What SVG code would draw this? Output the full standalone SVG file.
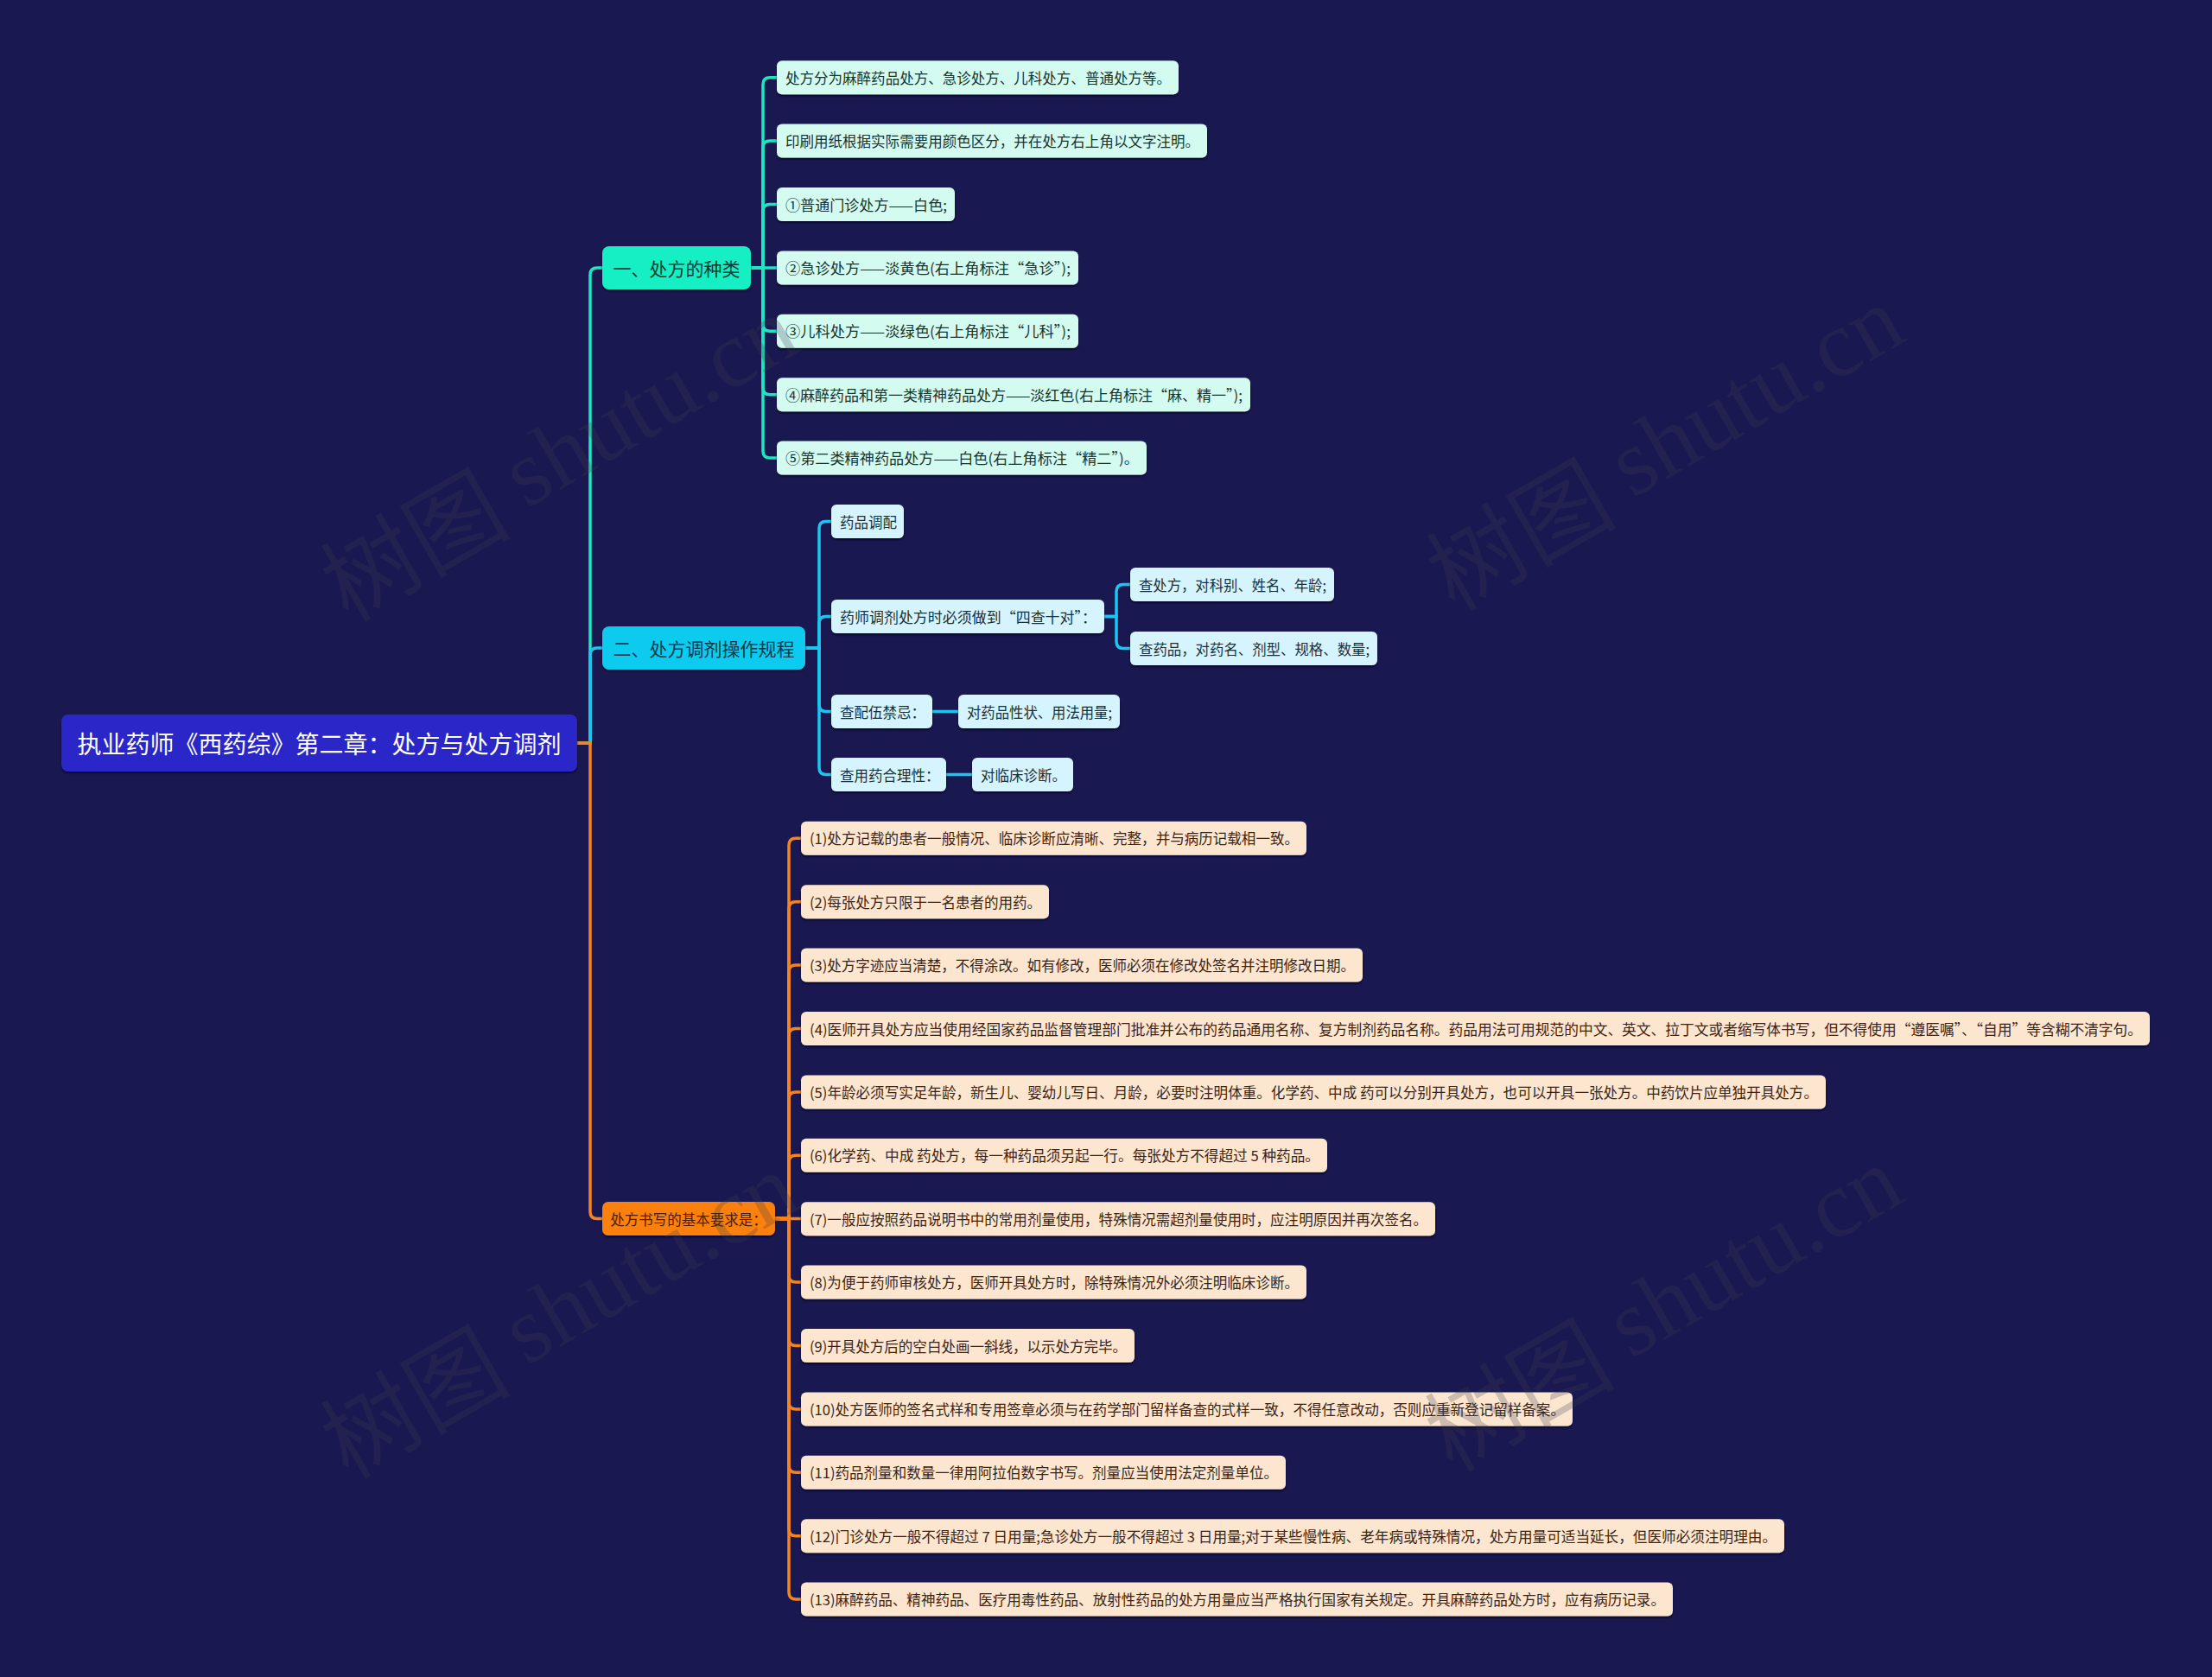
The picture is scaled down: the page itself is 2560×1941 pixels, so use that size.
<svg xmlns="http://www.w3.org/2000/svg" width="2560" height="1941" viewBox="0 0 2560 1941">
<defs>
<filter id="sh" x="-5%" y="-20%" width="110%" height="150%">
<feDropShadow dx="0" dy="2" stdDeviation="1.2" flood-color="#05041a" flood-opacity="0.7"/>
</filter>
<style>
text{font-family:"Noto Sans CJK SC","Noto Sans",sans-serif;dominant-baseline:central;}
.leaf text{font-size:16.5px;}
.c1{fill:none;stroke:#1ee6c0;stroke-width:3.5;}
.c2{fill:none;stroke:#1cc6f0;stroke-width:3.5;}
.c3{fill:none;stroke:#f5831f;stroke-width:3.5;}
.root rect{fill:#2b27c7;filter:url(#sh);}
.root text{fill:#ffffff;font-size:28px;text-anchor:middle;}
.b1 rect{fill:#14efc3;filter:url(#sh);}
.b1 text{fill:#0b3a31;font-size:21px;text-anchor:middle;}
.b2 rect{fill:#0fcbef;filter:url(#sh);}
.b2 text{fill:#083a4a;font-size:21px;text-anchor:middle;}
.b3 rect{fill:#fb800f;filter:url(#sh);}
.b3 text{fill:#4a1e00;font-size:16.5px;text-anchor:middle;}
.l1 rect{fill:#d3fbf0;filter:url(#sh);}
.l1 text{fill:#17332f;}
.l2 rect{fill:#d5f4fd;filter:url(#sh);}
.l2 text{fill:#17303a;}
.l3 rect{fill:#fde6cf;filter:url(#sh);}
.l3 text{fill:#3b2414;}
.wm text{font-size:110px;fill:#3a3a50;fill-opacity:0.25;text-anchor:middle;}
</style>
</defs>
<rect x="0" y="0" width="2560" height="1941" fill="#1a1850"/>

<g id="connectors">
<path class="c1" d="M668 860 H683 V318 Q683 310 691 310 H697"/>
<path class="c2" d="M668 860 H683 V758 Q683 750 691 750 H697"/>
<path class="c3" d="M668 860 H683 V1402.5 Q683 1410.5 691 1410.5 H697"/>

<path class="c1" d="M869 310 H883 V97.7 Q883 89.7 891 89.7 H899"/>
<path class="c1" d="M869 310 H883 V171.1 Q883 163.1 891 163.1 H899"/>
<path class="c1" d="M869 310 H883 V244.5 Q883 236.5 891 236.5 H899"/>
<path class="c1" d="M869 310 H899"/>
<path class="c1" d="M869 310 H883 V375.3 Q883 383.3 891 383.3 H899"/>
<path class="c1" d="M869 310 H883 V448.7 Q883 456.7 891 456.7 H899"/>
<path class="c1" d="M869 310 H883 V522.1 Q883 530.1 891 530.1 H899"/>

<path class="c2" d="M932 750 H948 V611.5 Q948 603.5 956 603.5 H962"/>
<path class="c2" d="M932 750 H948 V721.5 Q948 713.5 956 713.5 H962"/>
<path class="c2" d="M932 750 H948 V815.5 Q948 823.5 956 823.5 H962"/>
<path class="c2" d="M932 750 H948 V888.5 Q948 896.5 956 896.5 H962"/>
<path class="c2" d="M1278 713.5 H1292 V684.5 Q1292 676.5 1300 676.5 H1308"/>
<path class="c2" d="M1278 713.5 H1292 V742.5 Q1292 750.5 1300 750.5 H1308"/>
<path class="c2" d="M1079 823.5 H1109"/>
<path class="c2" d="M1095 896.5 H1125"/>

<path class="c3" d="M897 1410.5 H913 V978.3 Q913 970.3 921 970.3 H927"/>
<path class="c3" d="M897 1410.5 H913 V1051.7 Q913 1043.7 921 1043.7 H927"/>
<path class="c3" d="M897 1410.5 H913 V1125.1 Q913 1117.1 921 1117.1 H927"/>
<path class="c3" d="M897 1410.5 H913 V1198.5 Q913 1190.5 921 1190.5 H927"/>
<path class="c3" d="M897 1410.5 H913 V1271.9 Q913 1263.9 921 1263.9 H927"/>
<path class="c3" d="M897 1410.5 H913 V1345.3 Q913 1337.3 921 1337.3 H927"/>
<path class="c3" d="M897 1410.5 H927"/>
<path class="c3" d="M897 1410.5 H913 V1476.1 Q913 1484.1 921 1484.1 H927"/>
<path class="c3" d="M897 1410.5 H913 V1549.5 Q913 1557.5 921 1557.5 H927"/>
<path class="c3" d="M897 1410.5 H913 V1622.9 Q913 1630.9 921 1630.9 H927"/>
<path class="c3" d="M897 1410.5 H913 V1696.3 Q913 1704.3 921 1704.3 H927"/>
<path class="c3" d="M897 1410.5 H913 V1769.7 Q913 1777.7 921 1777.7 H927"/>
<path class="c3" d="M897 1410.5 H913 V1843.1 Q913 1851.1 921 1851.1 H927"/>
</g>

<g id="root" class="root"><rect x="71" y="827" width="597" height="66" rx="8"/><text x="369.5" y="860">执业药师《西药综》第二章：处方与处方调剂</text></g>

<g id="b1" class="b1"><rect x="697" y="285" width="172" height="50" rx="8"/><text x="783" y="310">一、处方的种类</text></g>
<g id="b2" class="b2"><rect x="697" y="725" width="235" height="50" rx="8"/><text x="814.5" y="750">二、处方调剂操作规程</text></g>
<g id="b3" class="b3"><rect x="697" y="1391" width="200" height="39" rx="7"/><text x="797" y="1410.5">处方书写的基本要求是：</text></g>

<g id="b1-1" class="leaf l1"><rect x="899" y="70.2" width="465" height="39" rx="6"/><text x="909" y="89.7" textLength="446" lengthAdjust="spacingAndGlyphs">处方分为麻醉药品处方、急诊处方、儿科处方、普通处方等。</text></g>
<g id="b1-2" class="leaf l1"><rect x="899" y="143.6" width="498" height="39" rx="6"/><text x="909" y="163.1" textLength="479" lengthAdjust="spacingAndGlyphs">印刷用纸根据实际需要用颜色区分，并在处方右上角以文字注明。</text></g>
<g id="b1-3" class="leaf l1"><rect x="899" y="217" width="206" height="39" rx="6"/><text x="909" y="236.5" textLength="187" lengthAdjust="spacingAndGlyphs">①普通门诊处方——白色;</text></g>
<g id="b1-4" class="leaf l1"><rect x="899" y="290.4" width="349" height="39" rx="6"/><text x="909" y="309.9" textLength="330" lengthAdjust="spacingAndGlyphs">②急诊处方——淡黄色(右上角标注“急诊”);</text></g>
<g id="b1-5" class="leaf l1"><rect x="899" y="363.8" width="349" height="39" rx="6"/><text x="909" y="383.3" textLength="330" lengthAdjust="spacingAndGlyphs">③儿科处方——淡绿色(右上角标注“儿科”);</text></g>
<g id="b1-6" class="leaf l1"><rect x="899" y="437.2" width="548" height="39" rx="6"/><text x="909" y="456.7" textLength="529" lengthAdjust="spacingAndGlyphs">④麻醉药品和第一类精神药品处方——淡红色(右上角标注“麻、精一”);</text></g>
<g id="b1-7" class="leaf l1"><rect x="899" y="510.6" width="428" height="39" rx="6"/><text x="909" y="530.1" textLength="409" lengthAdjust="spacingAndGlyphs">⑤第二类精神药品处方——白色(右上角标注“精二”)。</text></g>

<g id="b2-1" class="leaf l2"><rect x="962" y="584" width="84" height="39" rx="6"/><text x="972" y="603.5">药品调配</text></g>
<g id="b2-2" class="leaf l2"><rect x="962" y="694" width="316" height="39" rx="6"/><text x="972" y="713.5" textLength="297" lengthAdjust="spacingAndGlyphs">药师调剂处方时必须做到“四查十对”：</text></g>
<g id="b2-2-1" class="leaf l2"><rect x="1308" y="657" width="236" height="39" rx="6"/><text x="1318" y="676.5" textLength="217" lengthAdjust="spacingAndGlyphs">查处方，对科别、姓名、年龄;</text></g>
<g id="b2-2-2" class="leaf l2"><rect x="1308" y="731" width="286" height="39" rx="6"/><text x="1318" y="750.5" textLength="267" lengthAdjust="spacingAndGlyphs">查药品，对药名、剂型、规格、数量;</text></g>
<g id="b2-3" class="leaf l2"><rect x="962" y="804" width="117" height="39" rx="6"/><text x="972" y="823.5">查配伍禁忌：</text></g>
<g id="b2-3-1" class="leaf l2"><rect x="1109" y="804" width="187" height="39" rx="6"/><text x="1119" y="823.5" textLength="168" lengthAdjust="spacingAndGlyphs">对药品性状、用法用量;</text></g>
<g id="b2-4" class="leaf l2"><rect x="962" y="877" width="133" height="39" rx="6"/><text x="972" y="896.5">查用药合理性：</text></g>
<g id="b2-4-1" class="leaf l2"><rect x="1125" y="877" width="117" height="39" rx="6"/><text x="1135" y="896.5">对临床诊断。</text></g>

<g id="b3-1" class="leaf l3"><rect x="927" y="950.8" width="585" height="39" rx="6"/><text x="937" y="970.3" textLength="566" lengthAdjust="spacingAndGlyphs">(1)处方记载的患者一般情况、临床诊断应清晰、完整，并与病历记载相一致。</text></g>
<g id="b3-2" class="leaf l3"><rect x="927" y="1024.2" width="287" height="39" rx="6"/><text x="937" y="1043.7" textLength="268" lengthAdjust="spacingAndGlyphs">(2)每张处方只限于一名患者的用药。</text></g>
<g id="b3-3" class="leaf l3"><rect x="927" y="1097.6" width="650" height="39" rx="6"/><text x="937" y="1117.1" textLength="631" lengthAdjust="spacingAndGlyphs">(3)处方字迹应当清楚，不得涂改。如有修改，医师必须在修改处签名并注明修改日期。</text></g>
<g id="b3-4" class="leaf l3"><rect x="927" y="1171" width="1561" height="39" rx="6"/><text x="937" y="1190.5" textLength="1542" lengthAdjust="spacingAndGlyphs">(4)医师开具处方应当使用经国家药品监督管理部门批准并公布的药品通用名称、复方制剂药品名称。药品用法可用规范的中文、英文、拉丁文或者缩写体书写，但不得使用“遵医嘱”、“自用”等含糊不清字句。</text></g>
<g id="b3-5" class="leaf l3"><rect x="927" y="1244.4" width="1186" height="39" rx="6"/><text x="937" y="1263.9" textLength="1167" lengthAdjust="spacingAndGlyphs">(5)年龄必须写实足年龄，新生儿、婴幼儿写日、月龄，必要时注明体重。化学药、中成 药可以分别开具处方，也可以开具一张处方。中药饮片应单独开具处方。</text></g>
<g id="b3-6" class="leaf l3"><rect x="927" y="1317.8" width="609" height="39" rx="6"/><text x="937" y="1337.3" textLength="590" lengthAdjust="spacingAndGlyphs">(6)化学药、中成 药处方，每一种药品须另起一行。每张处方不得超过 5 种药品。</text></g>
<g id="b3-7" class="leaf l3"><rect x="927" y="1391.2" width="734" height="39" rx="6"/><text x="937" y="1410.7" textLength="715" lengthAdjust="spacingAndGlyphs">(7)一般应按照药品说明书中的常用剂量使用，特殊情况需超剂量使用时，应注明原因并再次签名。</text></g>
<g id="b3-8" class="leaf l3"><rect x="927" y="1464.6" width="585" height="39" rx="6"/><text x="937" y="1484.1" textLength="566" lengthAdjust="spacingAndGlyphs">(8)为便于药师审核处方，医师开具处方时，除特殊情况外必须注明临床诊断。</text></g>
<g id="b3-9" class="leaf l3"><rect x="927" y="1538" width="386" height="39" rx="6"/><text x="937" y="1557.5" textLength="367" lengthAdjust="spacingAndGlyphs">(9)开具处方后的空白处画一斜线，以示处方完毕。</text></g>
<g id="b3-10" class="leaf l3"><rect x="927" y="1611.4" width="893" height="39" rx="6"/><text x="937" y="1630.9" textLength="874" lengthAdjust="spacingAndGlyphs">(10)处方医师的签名式样和专用签章必须与在药学部门留样备查的式样一致，不得任意改动，否则应重新登记留样备案。</text></g>
<g id="b3-11" class="leaf l3"><rect x="927" y="1684.8" width="561" height="39" rx="6"/><text x="937" y="1704.3" textLength="542" lengthAdjust="spacingAndGlyphs">(11)药品剂量和数量一律用阿拉伯数字书写。剂量应当使用法定剂量单位。</text></g>
<g id="b3-12" class="leaf l3"><rect x="927" y="1758.2" width="1138" height="39" rx="6"/><text x="937" y="1777.7" textLength="1119" lengthAdjust="spacingAndGlyphs">(12)门诊处方一般不得超过 7 日用量;急诊处方一般不得超过 3 日用量;对于某些慢性病、老年病或特殊情况，处方用量可适当延长，但医师必须注明理由。</text></g>
<g id="b3-13" class="leaf l3"><rect x="927" y="1831.6" width="1009" height="39" rx="6"/><text x="937" y="1851.1" textLength="990" lengthAdjust="spacingAndGlyphs">(13)麻醉药品、精神药品、医疗用毒性药品、放射性药品的处方用量应当严格执行国家有关规定。开具麻醉药品处方时，应有病历记录。</text></g>

<g id="watermark" class="wm">
<text transform="translate(645,526) rotate(-30)">树图 <tspan font-family="Liberation Serif">shutu.cn</tspan></text>
<text transform="translate(1925,514) rotate(-30)">树图 <tspan font-family="Liberation Serif">shutu.cn</tspan></text>
<text transform="translate(645,1518) rotate(-30)">树图 <tspan font-family="Liberation Serif">shutu.cn</tspan></text>
<text transform="translate(1923,1510) rotate(-30)">树图 <tspan font-family="Liberation Serif">shutu.cn</tspan></text>
</g>
</svg>
